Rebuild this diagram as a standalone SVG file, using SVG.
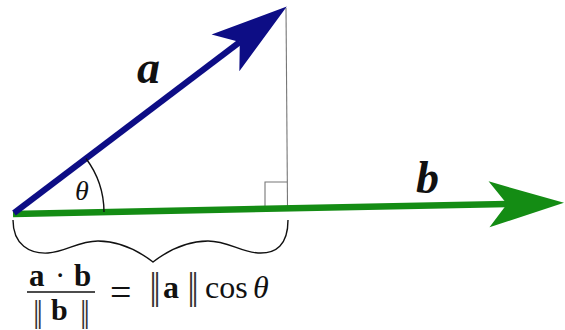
<svg xmlns="http://www.w3.org/2000/svg" width="565" height="330" viewBox="0 0 565 330">
  <style>
    .serif { font-family: "Liberation Serif", "DejaVu Serif", serif; fill: #111; }
    .bi { font-weight: bold; font-style: italic; }
    .b { font-weight: bold; }
    .it { font-style: italic; }
    .thin { fill: none; stroke: #111; stroke-width: 1.4; }
    .bar { font-family: "Liberation Serif", serif; fill: #333; }
  </style>
  <defs>
    <marker id="headBlue" markerUnits="userSpaceOnUse" markerWidth="80" markerHeight="50" viewBox="0 -25 80 50" refX="18" refY="0" orient="auto" overflow="visible">
      <path d="M0,-23 L77,0 L0,23 L18,0 Z" fill="#0d0d85"/>
    </marker>
    <marker id="headGreen" markerUnits="userSpaceOnUse" markerWidth="80" markerHeight="50" viewBox="0 -25 80 50" refX="18" refY="0" orient="auto" overflow="visible">
      <path d="M0,-23 L75,0 L0,23 L18,0 Z" fill="#148c14"/>
    </marker>
  </defs>
  <rect width="565" height="330" fill="#ffffff"/>

  <g id="connectors">
    <!-- projection line and right angle -->
    <line x1="286" y1="8" x2="287.5" y2="206" stroke="#777" stroke-width="1.1"/>
    <path d="M265,206 L265,182 L287,182" fill="none" stroke="#777" stroke-width="1.1"/>
    <!-- vector b -->
    <line id="vec-b" x1="13" y1="214" x2="507" y2="204" stroke="#148c14" stroke-width="6.5" marker-end="url(#headGreen)"/>
    <!-- vector a -->
    <line id="vec-a" x1="14" y1="213" x2="239.8" y2="42" stroke="#0d0d85" stroke-width="6" marker-end="url(#headBlue)"/>
    <!-- angle arc -->
    <path class="thin" d="M104,212 A90,90 0 0 0 86,158.5"/>
    <!-- brace -->
    <path class="thin" d="M13,220 C13,245 30,254 48,253 C66,252 78,241 98,241 C120,241 140,252 153,262 C166,252 186,241 208,241 C228,241 240,252 258,253 C276,254 288,245 288,220"/>
  </g>

  <g id="label-a">
    <text class="serif bi" x="137" y="83" font-size="46">a</text>
  </g>
  <g id="label-b">
    <text class="serif bi" x="416" y="193" font-size="46">b</text>
  </g>
  <g id="label-theta">
    <text class="serif it" x="75" y="200" font-size="28">θ</text>
  </g>

  <g id="formula">
    <text class="serif" font-size="31" y="286">
      <tspan class="b" x="29">a</tspan><tspan x="55">·</tspan><tspan class="b" x="74">b</tspan>
    </text>
    <line x1="27" y1="292" x2="95" y2="292" stroke="#111" stroke-width="1.6"/>
    <text class="bar" font-size="32" x="33" y="322" letter-spacing="-2.8">||</text>
    <text class="serif b" font-size="30" x="51" y="320">b</text>
    <text class="bar" font-size="32" x="80" y="322" letter-spacing="-2.8">||</text>
    <text class="serif" font-size="38" x="110" y="305">=</text>
    <text class="bar" font-size="38" x="149.2" y="299" letter-spacing="-3.6">||</text>
    <text class="serif b" font-size="32" x="163" y="298">a</text>
    <text class="bar" font-size="38" x="187.2" y="299" letter-spacing="-3.6">||</text>
    <text class="serif" font-size="32" x="205" y="298">cos</text>
    <text class="serif it" font-size="32" x="253" y="298">θ</text>
  </g>
</svg>
